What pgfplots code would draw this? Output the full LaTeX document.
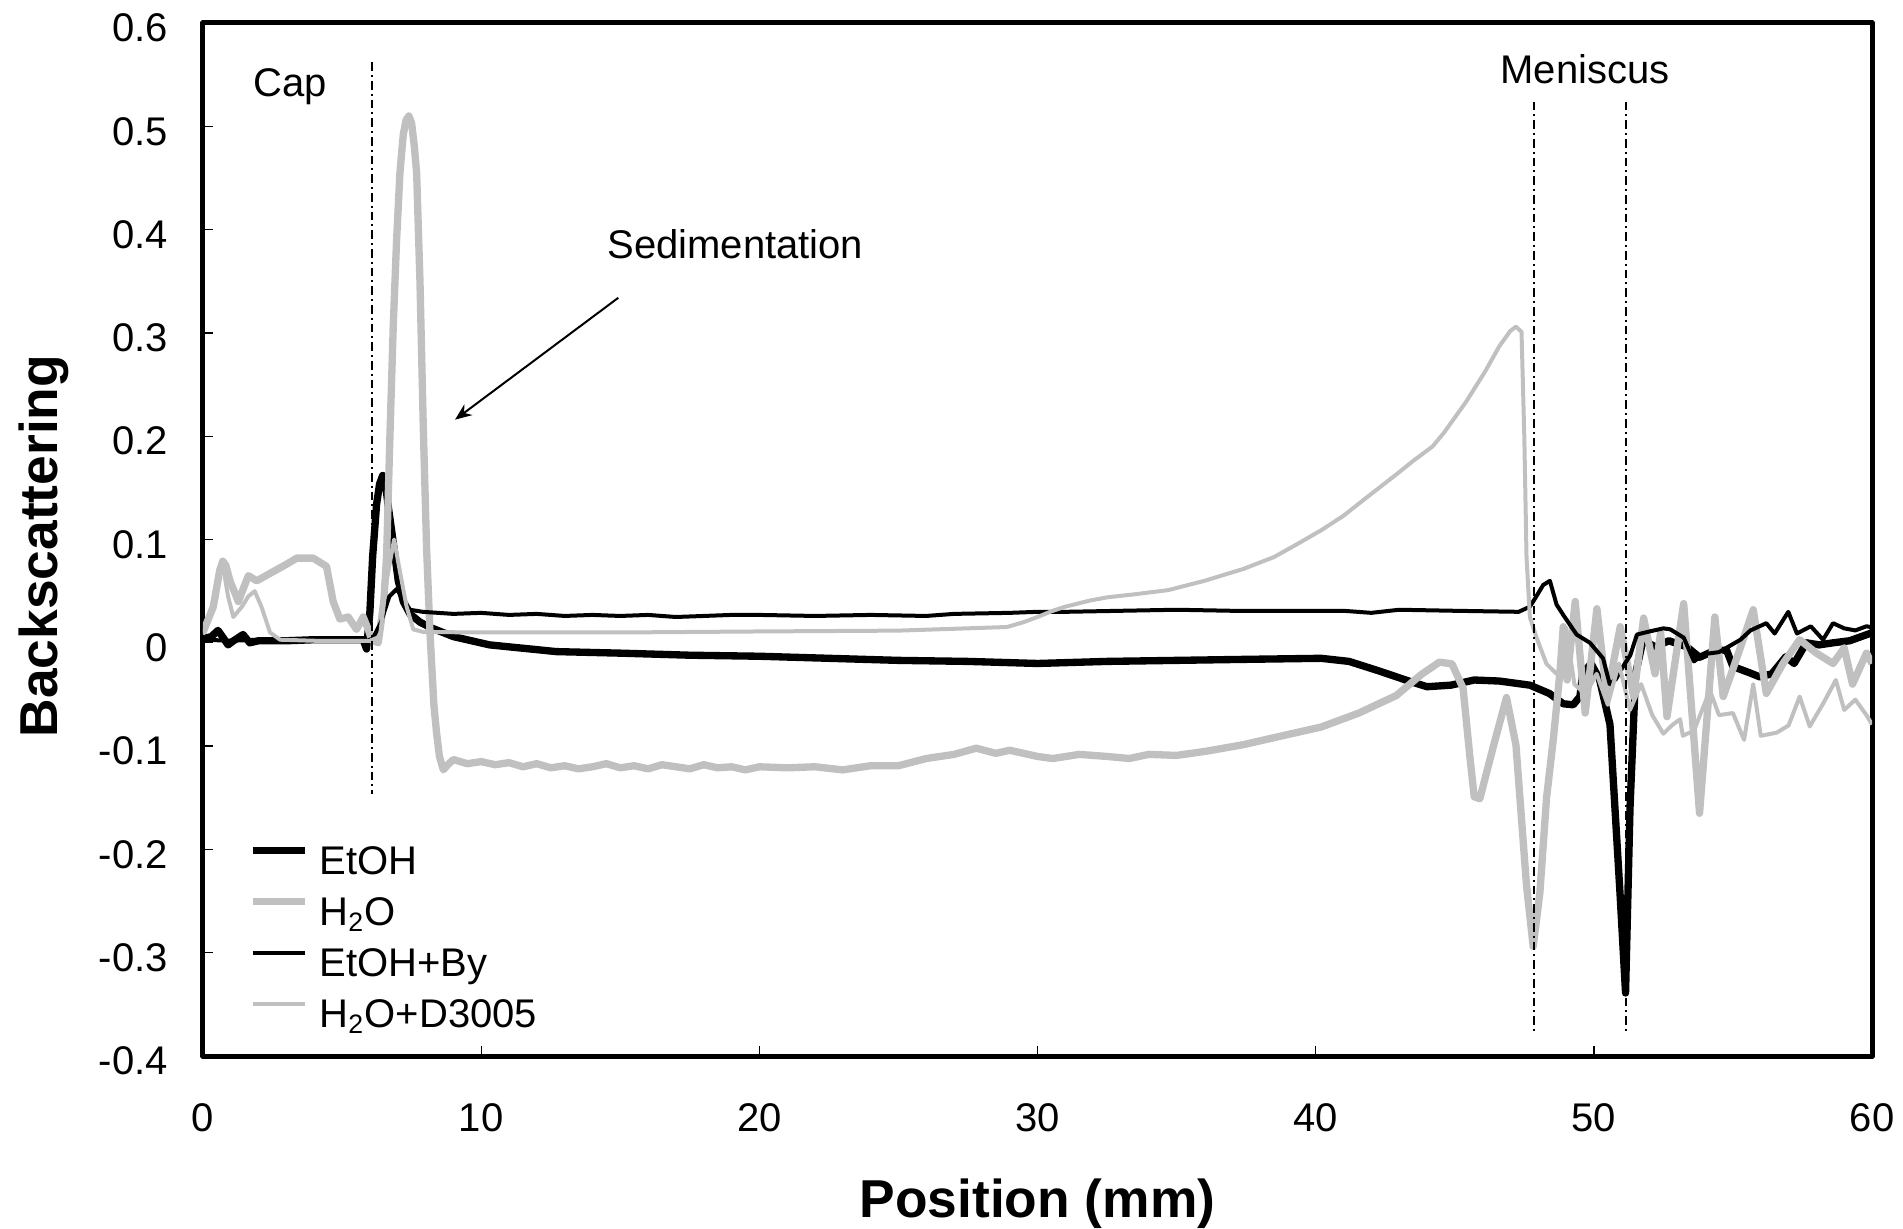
\documentclass[border=0pt]{standalone}
\usepackage{fontspec}
\setmainfont{Liberation Sans}
\usepackage{pgfplots}
\pgfplotsset{compat=1.18}
\usetikzlibrary{arrows.meta,calc}
\definecolor{lgray}{RGB}{192,192,192}

\begin{document}
\begin{tikzpicture}
\begin{axis}[name=ax, at={(0,0)}, anchor=south west,
  scale only axis, width=500.7pt, height=309.9pt,
  xmin=0, xmax=60, ymin=-0.4, ymax=0.6,
  xtick={0,10,20,30,40,50,60}, xticklabels={0,10,20,30,40,50,60},
  ytick={-0.4,-0.3,-0.2,-0.1,0,0.1,0.2,0.3,0.4,0.5,0.6},
  yticklabels={-0.4,-0.3,-0.2,-0.1,0,0.1,0.2,0.3,0.4,0.5,0.6},
  tick align=inside, xtick pos=left, ytick pos=left,
  major tick length=3pt,
  major tick style={black, line width=0.4pt},
  axis line style={line width=1.5pt},
  tick label style={font=\fontsize{12}{14}\selectfont},
  yticklabel style={anchor=east, inner sep=0pt, xshift=-10.4pt, yshift=-1.5pt},
  xticklabel style={anchor=north, inner sep=0pt, yshift=-14.1pt},
  xlabel={Position (mm)},
  xlabel style={font=\bfseries\fontsize{16}{19}\selectfont, at={(axis description cs:0.5,-0.1559)}, anchor=base},
  ylabel={Backscattering},
  ylabel style={font=\bfseries\fontsize{16}{19}\selectfont, at={(axis description cs:-0.0871,0.4937)}, anchor=base},
  legend cell align=left,
  legend image code/.code={\draw[#1] (0pt,4.3pt) -- (15.6pt,4.3pt);},
  legend style={at={(axis description cs:0.0276,0.2043)}, anchor=north west,
    draw=none, fill=none, inner sep=0pt, outer sep=0pt,
    font=\fontsize{12}{14}\selectfont, row sep=3.3pt, column sep=3.3pt,
    nodes={inner sep=0pt, text height=9pt, text depth=3pt}},
  line join=round,
]
% EtOH
\addplot[black, line width=2.2pt] coordinates {
(0.0,0.004)(0.3,0.006)(0.54,0.012)(0.75,0.004)(0.9,-0.002)(1.1,0.002)(1.44,0.008)(1.68,0.0)
(2.0,0.002)(3.0,0.002)(4.0,0.003)(5.0,0.003)(5.76,0.003)(5.88,-0.006)(6.0,0.03)(6.1,0.084)
(6.24,0.134)(6.35,0.154)(6.46,0.162)(6.55,0.156)(6.66,0.132)(6.78,0.109)(7.02,0.060)(7.2,0.04)(7.44,0.028)(7.8,0.02)
(8.16,0.015)(9.0,0.006)(10.3,-0.002)(12.7,-0.0085)(15,-0.010)(17.5,-0.012)(20,-0.013)
(22.5,-0.015)(25,-0.017)(27.5,-0.018)(30,-0.02)(32.5,-0.018)(35,-0.017)(37.5,-0.016)
(40.2,-0.015)(41.2,-0.018)(42.25,-0.027)(43.35,-0.037)(44.0,-0.0425)(44.86,-0.041)
(45.7,-0.036)(46.6,-0.037)(47.7,-0.041)(48.4,-0.049)(48.9,-0.059)(49.26,-0.06)(49.5,-0.052)
(49.6,-0.03)(49.9,-0.02)(50.2,-0.035)(50.58,-0.079)(50.94,-0.242)(51.14,-0.339)(51.3,-0.16)
(51.5,-0.03)(51.77,0.003)(52.2,-0.004)(52.7,0.002)(53.35,-0.004)(53.8,-0.014)(54.3,-0.008)
(54.77,-0.007)(55.0,-0.023)(55.5,-0.028)(55.97,-0.033)(56.4,-0.03)(56.9,-0.0135)(57.2,-0.02)
(57.64,0.0)(58.1,-0.002)(58.6,0.0)(59.2,0.002)(59.92,0.009)(60,0.01)
};
\addlegendentry{EtOH}
% H2O
\addplot[lgray, line width=2.2pt] coordinates {
(0.0,0.010)(0.37,0.035)(0.6,0.07)(0.71,0.079)(0.82,0.075)(0.97,0.06)(1.27,0.04)(1.63,0.065)(1.93,0.06)(2.53,0.069)
(3.0,0.076)(3.37,0.082)(3.96,0.082)(4.44,0.074)(4.68,0.04)(4.92,0.023)(5.22,0.025)(5.52,0.013)
(5.76,0.025)(5.94,0.013)(6.06,0.003)(6.3,0.0)(6.5,0.04)(6.6,0.084)(6.72,0.2)(6.84,0.307)(6.96,0.39)
(7.08,0.455)(7.2,0.492)(7.3,0.506)(7.4,0.51)(7.5,0.503)(7.6,0.48)(7.68,0.455)(7.8,0.35)
(7.92,0.208)(8.04,0.09)(8.16,0.010)(8.3,-0.06)(8.4,-0.088)(8.5,-0.11)(8.64,-0.123)(8.8,-0.118)
(9.0,-0.113)(9.5,-0.117)
(10,-0.115)(10.5,-0.118)(11,-0.116)(11.5,-0.12)(12,-0.117)(12.5,-0.121)(13,-0.119)(13.5,-0.122)
(14,-0.12)(14.5,-0.117)(15,-0.121)(15.5,-0.119)(16,-0.122)(16.5,-0.118)(17,-0.12)(17.5,-0.122)
(18,-0.118)(18.5,-0.121)(19,-0.12)(19.5,-0.123)(20,-0.12)(21,-0.121)(22,-0.12)(23,-0.123)
(24,-0.119)(25,-0.119)(26,-0.112)(27,-0.108)(27.8,-0.102)(28.5,-0.107)(29,-0.104)(30,-0.11)
(30.55,-0.112)(31.5,-0.108)(32.5,-0.11)(33.3,-0.112)(34,-0.108)(35,-0.109)(36.05,-0.105)
(37.4,-0.0986)(38.8,-0.09)(40.2,-0.0815)(41.55,-0.068)(42.9,-0.051)(43.8,-0.0306)(44.45,-0.0187)
(44.9,-0.0204)(45.3,-0.044)(45.55,-0.112)(45.7,-0.149)(45.9,-0.151)(46.4,-0.099)(46.86,-0.053)
(47.2,-0.099)(47.58,-0.235)(47.82,-0.294)(48.06,-0.242)(48.3,-0.15)(48.54,-0.094)(48.78,-0.029)
(48.9,0.0156)(49.04,-0.036)(49.33,0.040)(49.69,-0.068)(50.11,0.033)(50.47,-0.052)(50.95,0.0156)
(51.43,-0.052)(51.79,0.024)(52.2,-0.03)(52.4,0.01)(52.63,-0.0715)(53.23,0.038)(53.8,-0.165)
(54.35,0.025)(54.65,-0.052)(55.2,-0.01)(55.73,0.032)(56.2,-0.049)(56.8,-0.02)(57.4,0.003)
(58.0,-0.01)(58.6,-0.02)(59.0,-0.005)(59.3,-0.04)(59.8,-0.01)(60,-0.02)
};
\addlegendentry{H\textsubscript{2}O}
% EtOH+By
\addplot[black, line width=1.2pt] coordinates {
(0.0,0.003)(1,0.002)(2,0.003)(3,0.003)(4,0.003)(5,0.003)(5.9,0.002)(6.1,0.004)(6.4,0.02)
(6.7,0.045)(6.96,0.052)(7.2,0.042)(7.44,0.032)(7.9,0.03)(9,0.028)(10,0.029)(11,0.027)(12,0.028)
(13,0.026)(14,0.027)(15,0.026)(16,0.027)(17,0.025)(18,0.026)(19,0.027)(20,0.027)(22,0.026)
(24,0.027)(26,0.026)(27,0.028)(29,0.029)(30,0.03)(31,0.03)(33,0.031)(35,0.032)(37,0.031)
(39,0.031)(41,0.031)(42,0.029)(43,0.032)(45,0.031)(47.3,0.03)(47.7,0.035)(47.82,0.04)
(48.18,0.056)(48.42,0.06)(48.66,0.037)(48.9,0.027)(49.38,0.008)(49.86,0.0)(50.33,-0.015)
(50.57,-0.04)(50.8,-0.035)(51.07,-0.022)(51.31,-0.012)(51.55,0.008)(52.0,0.011)(52.5,0.014)
(52.75,0.013)(53.23,0.005)(53.6,-0.018)(53.95,-0.011)(54.5,-0.009)(55.27,0.003)(55.63,0.012)
(56.2,0.019)(56.5,0.009)(56.99,0.030)(57.3,0.009)(57.8,0.016)(58.24,0.003)(58.6,0.019)
(59.0,0.014)(59.4,0.012)(59.8,0.016)(60,0.015)
};
\addlegendentry{EtOH+By}
% H2O+D3005
\addplot[lgray, line width=1.2pt] coordinates {
(0.0,0.008)(0.3,0.03)(0.7,0.078)(0.9,0.045)(1.09,0.025)(1.4,0.035)(1.63,0.045)(1.86,0.05)
(2.1,0.035)(2.41,0.01)(2.77,0.003)(4.0,0.002)(5.0,0.002)(6.0,0.002)(6.36,0.006)(6.6,0.06)
(6.87,0.10)(7.08,0.069)(7.32,0.035)(7.56,0.013)(7.92,0.0105)(10,0.01)(15,0.01)(20,0.011)
(25,0.0118)(28.9,0.0153)(29.5,0.02)(30,0.025)(30.55,0.031)(31,0.035)(31.9,0.041)(32.5,0.044)
(33.5,0.047)(34.7,0.051)(36,0.06)(37.4,0.0715)(38.5,0.083)(39.3,0.095)(40.2,0.109)(41,0.123)
(41.8,0.14)(42.9,0.163)(43.5,0.176)(44.2,0.19)(44.6,0.203)(45.0,0.218)(45.4,0.233)(46.1,0.263)(46.6,0.287)
(47.0,0.302)(47.2,0.306)(47.4,0.301)(47.5,0.2)(47.58,0.083)
(47.7,0.025)(47.94,0.005)(48.3,-0.0205)(48.66,-0.030)(48.8,-0.03)(49.0,0.015)(49.3,-0.04)
(49.7,-0.05)(50.1,-0.03)(50.5,-0.06)(50.9,-0.02)(51.3,-0.065)(51.7,-0.04)(52.1,-0.07)
(52.5,-0.088)(52.8,-0.08)(53.1,-0.074)(53.2,-0.09)(53.6,-0.085)(54.17,-0.046)(54.5,-0.07)
(55.0,-0.068)(55.4,-0.094)(55.73,-0.04)(56.0,-0.09)(56.57,-0.087)(57.0,-0.08)(57.4,-0.052)
(57.76,-0.081)(58.24,-0.059)(58.7,-0.036)(59.0,-0.065)(59.4,-0.055)(59.8,-0.07)(60,-0.079)
};
\addlegendentry{H\textsubscript{2}O+D3005}
% reference lines
\draw[black, line width=0.6pt, dash pattern=on 2.6pt off 1.2pt on 0.6pt off 1.2pt] (axis cs:6.06,0.562) -- (axis cs:6.06,-0.146);
\draw[black, line width=0.6pt, dash pattern=on 2.6pt off 1.2pt on 0.6pt off 1.2pt] (axis cs:47.84,0.524) -- (axis cs:47.84,-0.376);
\draw[black, line width=0.6pt, dash pattern=on 2.6pt off 1.2pt on 0.6pt off 1.2pt] (axis cs:51.15,0.524) -- (axis cs:51.15,-0.376);
\node[font=\fontsize{12}{14}\selectfont] at (axis cs:3.13,0.538) {Cap};
\node[font=\fontsize{12}{14}\selectfont] at (axis cs:49.68,0.555) {Meniscus};
\node[font=\fontsize{12}{14}\selectfont] at (axis cs:19.14,0.386) {Sedimentation};
\draw[black, line width=0.6pt, -{Stealth[length=5pt,width=4pt]}] (axis cs:14.93,0.334) -- (axis cs:9.06,0.216);
\end{axis}
\pgfresetboundingbox
\path ($(ax.south west)+(-60.9pt,-51.6pt)$) rectangle ($(ax.north east)+(9.3pt,6.9pt)$);
\end{tikzpicture}
\end{document}
